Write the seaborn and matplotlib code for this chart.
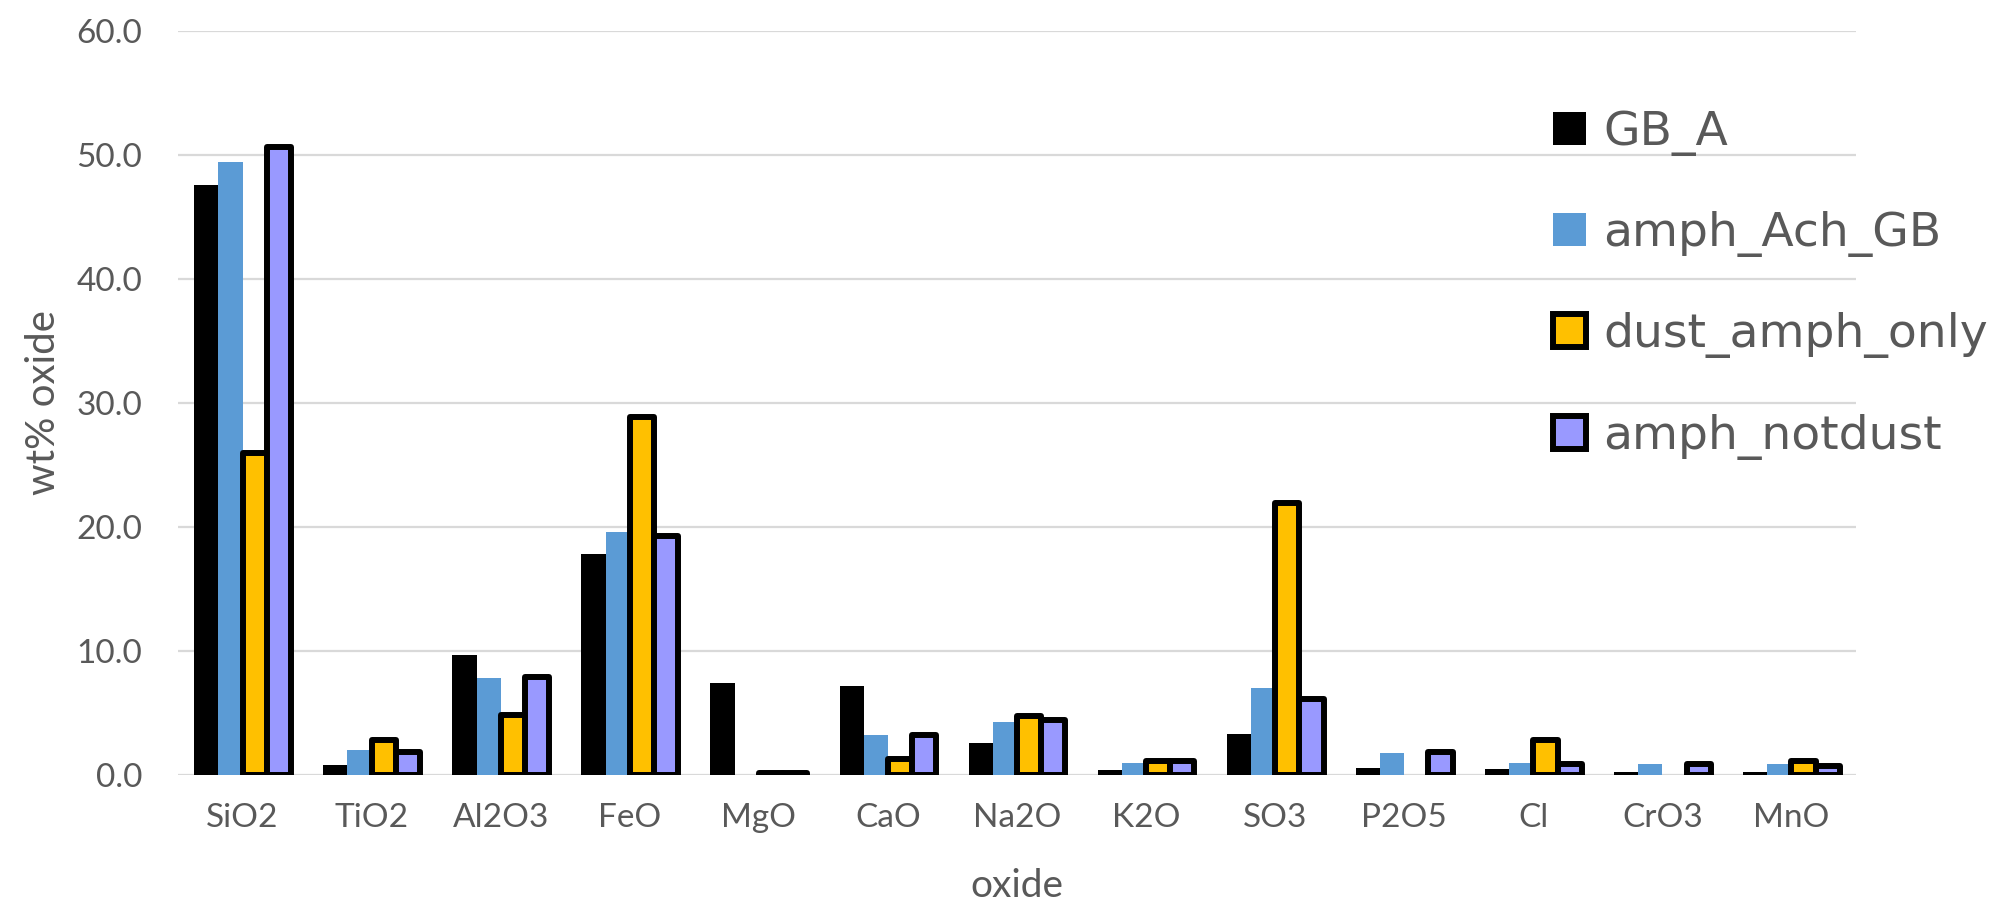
import matplotlib
matplotlib.use('Agg')
import matplotlib.pyplot as plt
from matplotlib.patches import Patch
import numpy as np
import pandas as pd
import seaborn as sns

oxides = ['SiO2', 'TiO2', 'Al2O3', 'FeO', 'MgO', 'CaO', 'Na2O', 'K2O',
          'SO3', 'P2O5', 'Cl', 'CrO3', 'MnO']
gb_a = [47.6, 0.8, 9.7, 17.8, 7.4, 7.2, 2.55, 0.4, 3.3, 0.6, 0.45, 0.25, 0.25]
amph_ach_gb = [49.4, 2.0, 7.8, 19.6, np.nan, 3.2, 4.3, 1.0, 7.0, 1.8, 1.0, 0.85, 0.85]
dust_amph_only = [26.0, 2.8, 4.8, 28.9, 0.15, 1.3, 4.75, 1.1, 21.9, np.nan, 2.85, np.nan, 1.1]
amph_notdust = [50.6, 1.85, 7.9, 19.3, 0.15, 3.2, 4.4, 1.1, 6.1, 1.85, 0.9, 0.9, 0.7]

series = ['GB_A', 'amph_Ach_GB', 'dust_amph_only', 'amph_notdust']
fills = ['#000000', '#5B9BD5', '#FFC000', '#9999FF']
edges = ['#000000', '#5B9BD5', '#000000', '#000000']
edge_w = [0, 0, 4.3, 4.3]

df = pd.DataFrame({'oxide': oxides, 'GB_A': gb_a, 'amph_Ach_GB': amph_ach_gb,
                   'dust_amph_only': dust_amph_only, 'amph_notdust': amph_notdust})
long_df = df.melt(id_vars='oxide', var_name='series', value_name='wt')

sns.set_style('white')
plt.rcParams['font.family'] = ['Lato', 'DejaVu Sans']
grey = '#595959'

fig = plt.figure(figsize=(20.03, 9.01), dpi=100)
ax = fig.add_axes([0.0889, 0.1398, 0.9266 - 0.0889, 0.9659 - 0.1398])

sns.barplot(data=long_df, x='oxide', y='wt', hue='series', order=oxides,
            hue_order=series, palette=fills, width=0.75, gap=0,
            saturation=1, legend=False, ax=ax)

# outlines only on the last two series
for cont, ec, lw in zip(ax.containers, edges, edge_w):
    for bar in cont:
        bar.set_edgecolor(ec)
        bar.set_linewidth(lw)
        bar.set_joinstyle('round')

ax.set_ylim(0, 60)
ax.set_yticks(np.arange(0, 61, 10))
ax.set_yticklabels([f'{v:.1f}' for v in np.arange(0, 61, 10)])
ax.set_xlim(-0.5, len(oxides) - 0.5)
ax.yaxis.grid(True, color='#D9D9D9', linewidth=1.6)
ax.set_axisbelow(True)
for s in ax.spines.values():
    s.set_visible(False)
ax.tick_params(axis='both', length=0, labelsize=24, colors=grey)
ax.tick_params(axis='x', pad=20)
ax.tick_params(axis='y', pad=26)
ax.set_xlabel('oxide', fontsize=28, color=grey, labelpad=25)
ax.set_ylabel('wt% oxide', fontsize=29, color=grey, labelpad=10)

handles = [Patch(facecolor=f, edgecolor=e, linewidth=l, joinstyle='round')
           for f, e, l in zip(fills, edges, edge_w)]
fig.legend(handles, series, loc='upper left', bbox_to_anchor=(0.7753, 0.878),
           frameon=False, prop={'family': 'DejaVu Sans', 'size': 34},
           handlelength=0.7, handleheight=0.7, handletextpad=0.36,
           labelspacing=1.17, borderpad=0, borderaxespad=0, labelcolor=grey)

fig.savefig('out.png', dpi=100)
